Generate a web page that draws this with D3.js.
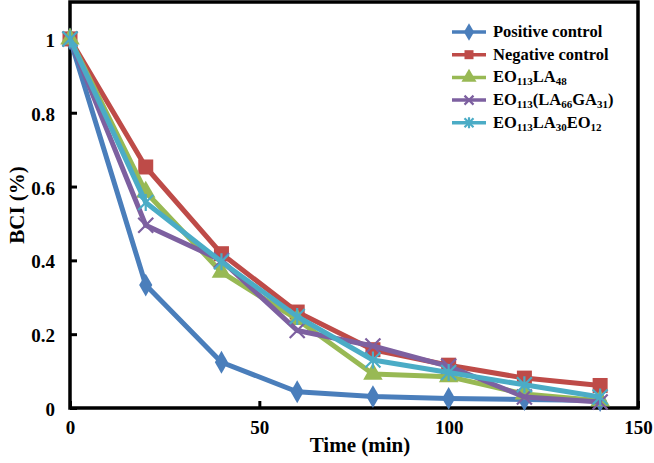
<!DOCTYPE html>
<meta charset="utf-8">
<script src="https://d3js.org/d3.v7.min.js"></script>
<style>
  body { margin: 0; background: #fff; }
</style>
<div id="chart"></div>
<script>
  // data
  var times = [0, 20, 40, 60, 80, 100, 120, 140];
  var seriesNames = ["Positive control", "Negative control", "EO113LA48", "EO113(LA66GA31)", "EO113LA30EO12"];
  var positive = [1, 0.333, 0.124, 0.044, 0.031, 0.026, 0.023, 0.02];
  var negative = [1, 0.653, 0.418, 0.26, 0.158, 0.116, 0.081, 0.061];
  var eoLA = [1, 0.585, 0.368, 0.24, 0.092, 0.085, 0.038, 0.02];
  var eoLAGA = [1, 0.495, 0.4, 0.21, 0.168, 0.113, 0.03, 0.016];
  var eoLAEO = [1, 0.557, 0.396, 0.248, 0.13, 0.096, 0.063, 0.03];
  var xTicks = [0, 50, 100, 150];
  var yTicks = [0, 0.2, 0.4, 0.6, 0.8, 1];

  var colors = ["#4a7ebb", "#be4b48", "#98b954", "#7d60a0", "#4bacc6"];
  var shapes = ["diamond", "square", "triangle", "cross", "star"];
  var allValues = [positive, negative, eoLA, eoLAGA, eoLAEO];
  var FONT = "'Liberation Serif', 'Times New Roman', 'DejaVu Serif', serif";

  var W = 654, H = 463;
  var margin = {top: 2, right: 16, bottom: 55, left: 70};

  var svg = d3.select("#chart").append("svg")
      .attr("width", W).attr("height", H);

  var x = d3.scaleLinear().domain([0, 150]).range([margin.left, W - margin.right]);
  var y = d3.scaleLinear().domain([0, 1.1]).range([H - margin.bottom, margin.top]);

  // axes (ticks inside)
  var xAxis = svg.append("g")
      .attr("transform", "translate(0," + y(0) + ")")
      .call(d3.axisBottom(x).tickValues(xTicks).tickSize(-7).tickPadding(13).tickFormat(d3.format("d")));
  var yAxis = svg.append("g")
      .attr("transform", "translate(" + x(0) + ",0)")
      .call(d3.axisLeft(y).tickValues(yTicks).tickSize(-7).tickPadding(15).tickFormat(function(d) { return d; }));
  [xAxis, yAxis].forEach(function(a) {
    a.attr("font-family", null).attr("font-size", null);
    a.select(".domain").remove();
    a.selectAll("line").attr("stroke", "#000").attr("stroke-width", 3);
    a.selectAll("text").attr("fill", "#000")
      .style("font-family", FONT).style("font-weight", "bold").style("font-size", "19px");
  });
  yAxis.selectAll("text").attr("dy", "0.4em");

  // frame
  svg.append("rect")
      .attr("x", x(0)).attr("y", y(1.1))
      .attr("width", x(150) - x(0)).attr("height", y(0) - y(1.1))
      .attr("fill", "none").attr("stroke", "#000").attr("stroke-width", 3.5);

  var line = d3.line().x(function(d) { return x(d[0]); }).y(function(d) { return y(d[1]); });

  function marker(g, shape, color, size) {
    if (shape === "diamond") {
      g.append("path").attr("d", d3.symbol(d3.symbolDiamond, size * 10)()).attr("fill", color);
    } else if (shape === "square") {
      g.append("rect").attr("x", -size / 2).attr("y", -size / 2).attr("width", size).attr("height", size).attr("fill", color);
    } else if (shape === "triangle") {
      g.append("path").attr("d", d3.symbol(d3.symbolTriangle, size * 11)()).attr("fill", color);
    } else if (shape === "cross") {
      var s = size / 2;
      g.append("path").attr("d", "M" + (-s) + "," + (-s) + "L" + s + "," + s + "M" + (-s) + "," + s + "L" + s + "," + (-s))
        .attr("stroke", color).attr("stroke-width", 2.2);
    } else {
      var s = size / 2;
      g.append("path").attr("d", "M" + (-s) + "," + (-s) + "L" + s + "," + s + "M" + (-s) + "," + s + "L" + s + "," + (-s) + "M0," + (-s - 1) + "L0," + (s + 1))
        .attr("stroke", color).attr("stroke-width", 2.2);
    }
  }

  allValues.forEach(function(vals, i) {
    var pts = times.map(function(t, j) { return [t, vals[j]]; });
    svg.append("path").datum(pts)
      .attr("d", line).attr("fill", "none")
      .attr("stroke", colors[i]).attr("stroke-width", 5).attr("stroke-linejoin", "round");
    pts.forEach(function(p) {
      var g = svg.append("g").attr("transform", "translate(" + x(p[0]) + "," + y(p[1]) + ")");
      marker(g, shapes[i], colors[i], 15);
    });
  });

  // axis titles
  svg.append("text").attr("x", (x(0) + x(150)) / 2 + 6).attr("y", 452)
    .attr("text-anchor", "middle").attr("fill", "#000")
    .style("font-family", FONT).style("font-weight", "bold").style("font-size", "21px")
    .text("Time (min)");
  svg.append("text").attr("transform", "translate(24," + y(0.55) + ") rotate(-90)")
    .attr("text-anchor", "middle").attr("fill", "#000")
    .style("font-family", FONT).style("font-weight", "bold").style("font-size", "21px")
    .text("BCI (%)");

  // legend with subscripts
  var legendLabels = [
    [["Positive control", 0]],
    [["Negative control", 0]],
    [["EO", 0], ["113", 1], ["LA", 0], ["48", 1]],
    [["EO", 0], ["113", 1], ["(LA", 0], ["66", 1], ["GA", 0], ["31", 1], [")", 0]],
    [["EO", 0], ["113", 1], ["LA", 0], ["30", 1], ["EO", 0], ["12", 1]]
  ];
  var leg = svg.append("g");
  legendLabels.forEach(function(parts, i) {
    var ly = 32 + i * 22.7;
    var g = leg.append("g").attr("transform", "translate(452," + ly + ")");
    g.append("line").attr("x1", 0).attr("x2", 34).attr("y1", 0).attr("y2", 0)
      .attr("stroke", colors[i]).attr("stroke-width", 3.5);
    var mg = g.append("g").attr("transform", "translate(17,0)");
    marker(mg, shapes[i], colors[i], 9);
    var t = g.append("text").attr("x", 41).attr("y", 5).attr("fill", "#000")
      .style("font-family", FONT).style("font-weight", "bold").style("font-size", "16.5px");
    parts.forEach(function(p, k) {
      var ts = t.append("tspan").text(p[0]);
      if (p[1]) ts.style("font-size", "11px").attr("dy", 3);
      else if (k > 0 && parts[k - 1][1]) ts.attr("dy", -3);
    });
  });
</script>
